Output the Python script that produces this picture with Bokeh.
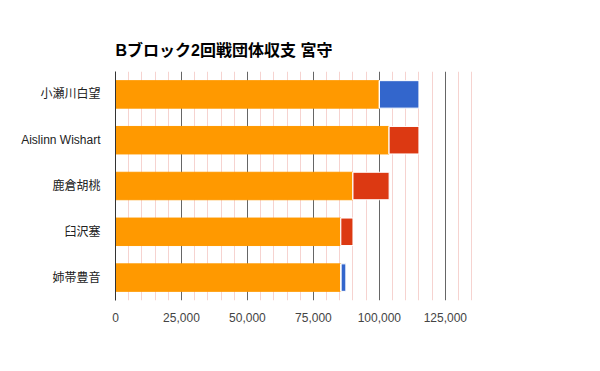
from bokeh.plotting import figure
from bokeh.models import FixedTicker, NumeralTickFormatter, ColumnDataSource, FactorRange, Range1d
from bokeh.embed import file_html
from bokeh.resources import INLINE

players = ["小瀬川白望", "Aislinn Wishart", "鹿倉胡桃", "臼沢塞", "姉帯豊音"]
base = [100000, 103700, 90000, 85400, 85400]
gain = [15000, 0, 0, 0, 1900]
loss = [0, 11300, 13700, 4600, 0]
major_ticks = [0, 25000, 50000, 75000, 100000, 125000]
minor_ticks = [v for v in range(0, 135001, 5000) if v % 25000 != 0]

FONT = "Liberation Sans, Noto Sans CJK JP"

gain_end = [b + g for b, g in zip(base, gain)]
loss_end = [b + l for b, l in zip(base, loss)]
src = ColumnDataSource(dict(p=players, base=base, zero=[0] * len(base),
                            gain_end=gain_end, loss_end=loss_end))

p = figure(y_range=FactorRange(*players[::-1]), x_range=Range1d(0, 135300),
           frame_width=357, frame_height=229,
           min_border_left=115, min_border_top=71, min_border_right=112, min_border_bottom=55,
           output_backend="svg", toolbar_location=None, background_fill_color="white",
           border_fill_color="white", outline_line_color=None)

p.hbar(y="p", left="zero", right="base", height=0.6, source=src, color="#ff9900")
p.hbar(y="p", left="base", right="gain_end", height=0.6, source=src,
       fill_color="#3366cc", line_color="white", line_width=1)
p.hbar(y="p", left="base", right="loss_end", height=0.6, source=src,
       fill_color="#dc3912", line_color="white", line_width=1)

p.title.text = "Bブロック2回戦団体収支 宮守"
p.title.text_font = FONT
p.title.text_font_size = "16px"
p.title.text_font_style = "bold"
p.title.text_color = "#000000"
p.title.align = "left"
p.title.standoff = 25

p.xaxis.ticker = FixedTicker(ticks=major_ticks, minor_ticks=minor_ticks)
p.xaxis.formatter = NumeralTickFormatter(format="0,0")
p.xaxis.axis_line_color = None
p.xaxis.major_tick_line_color = None
p.xaxis.minor_tick_line_color = None
p.xaxis.major_label_text_font = FONT
p.xaxis.major_label_text_font_size = "12px"
p.xaxis.major_label_text_color = "#444444"
p.xaxis.major_label_standoff = 6

p.yaxis.axis_line_color = "#333333"
p.yaxis.axis_line_width = 1
p.yaxis.major_tick_line_color = None
p.yaxis.minor_tick_line_color = None
p.yaxis.major_label_text_font = FONT
p.yaxis.major_label_text_font_size = "12px"
p.yaxis.major_label_text_color = "#222222"
p.yaxis.major_label_standoff = 9

p.xgrid.grid_line_color = "#666666"
p.xgrid.minor_grid_line_color = "#f6d3d0"
p.xgrid.level = "underlay"
p.ygrid.grid_line_color = None

open("out.html", "w").write(file_html(p, INLINE))
